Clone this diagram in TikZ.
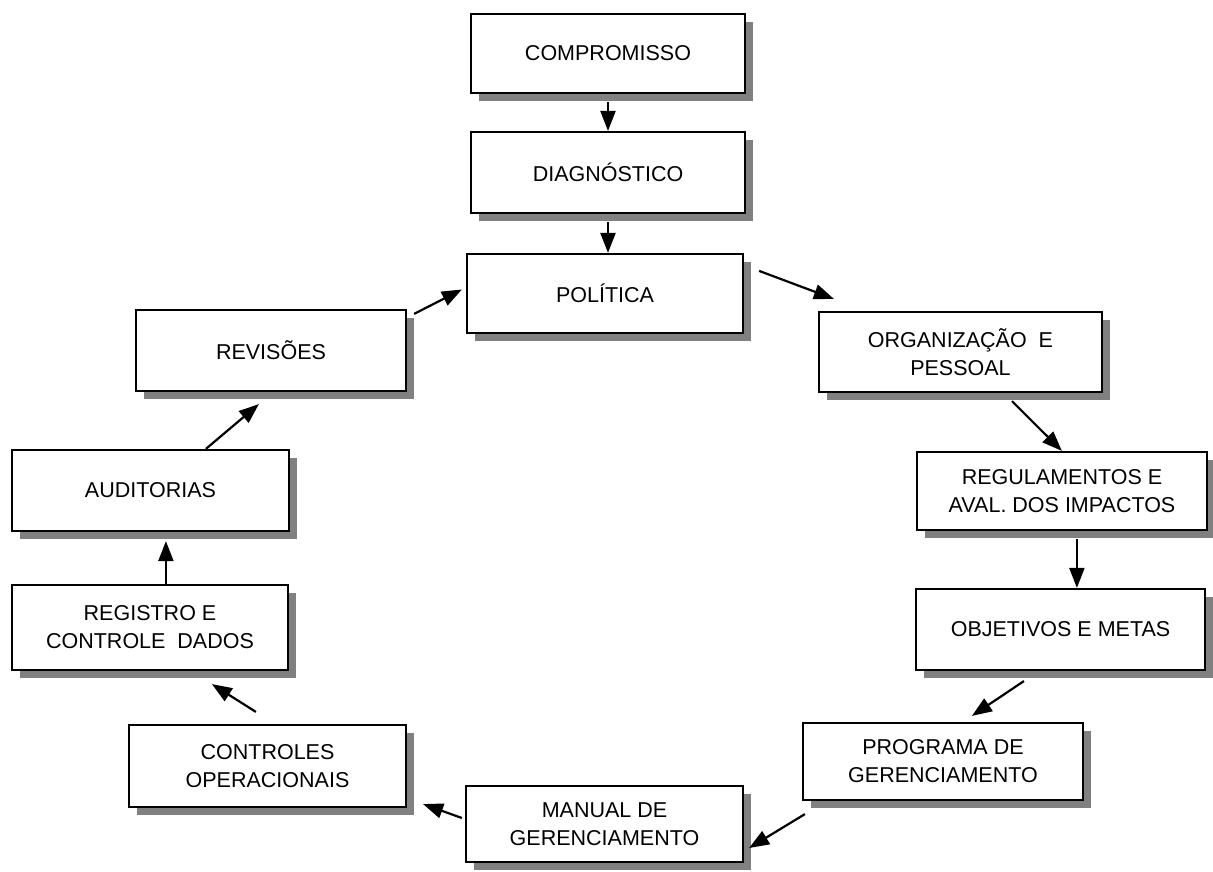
\documentclass[tikz,border=0pt]{standalone}
\usepackage{fontspec}
\setmainfont{Liberation Sans}
\usetikzlibrary{arrows.meta,shadows}

\begin{document}
\begin{tikzpicture}[x=1pt,y=-1pt,
  stepbox/.style={draw=black, line width=2.2pt, fill=white, inner sep=0pt,
    align=center, font=\fontsize{21.5}{28}\selectfont,
    drop shadow={shadow xshift=8pt, shadow yshift=-8pt, fill=black!50, opacity=1}},
  flow/.style={line width=2.2pt, -{Triangle[length=20pt,width=15pt]}}
]
\useasboundingbox (0,0) rectangle (1213,872);

% boxes: centre, width, height in pixels
\node[stepbox, minimum width=274pt, minimum height=79pt] (comp) at (608,53.5) {COMPROMISSO};
\node[stepbox, minimum width=274pt, minimum height=81pt] (diag) at (608,172.5) {DIAGN\'OSTICO};
\node[stepbox, minimum width=276pt, minimum height=79pt] (pol) at (605,293.5) {POL\'ITICA};
\node[stepbox, minimum width=283pt, minimum height=80pt] (org) at (960.5,352) {ORGANIZA\c{C}\~AO\ \ E\\PESSOAL};
\node[stepbox, minimum width=290pt, minimum height=78pt] (reg) at (1062,491) {REGULAMENTOS E\\AVAL. DOS IMPACTOS};
\node[stepbox, minimum width=289pt, minimum height=81pt] (obj) at (1060.5,629.5) {OBJETIVOS E METAS};
\node[stepbox, minimum width=280pt, minimum height=77pt] (prog) at (943,761.5) {PROGRAMA DE\\GERENCIAMENTO};
\node[stepbox, minimum width=277pt, minimum height=76pt] (man) at (604.5,824) {MANUAL DE\\GERENCIAMENTO};
\node[stepbox, minimum width=277pt, minimum height=82pt] (ctrl) at (267.5,766) {CONTROLES\\OPERACIONAIS};
\node[stepbox, minimum width=276pt, minimum height=85pt] (regi) at (150,627.5) {REGISTRO E\\CONTROLE\ \ DADOS};
\node[stepbox, minimum width=277pt, minimum height=81pt] (aud) at (150.5,490.5) {AUDITORIAS};
\node[stepbox, minimum width=270pt, minimum height=81pt] (rev) at (271,350.5) {REVIS\~OES};

% connectors
\draw[flow] ([shift={(0,8)}]comp.south) -- (diag.north);
\draw[flow] ([shift={(0,8)}]diag.south) -- ([shift={(3,0)}]pol.north);
\draw[flow] ([shift={(15,18)}]pol.north east) -- ([shift={(16,-12)}]org.north west);
\draw[flow] ([shift={(194,8)}]org.south west) -- ([shift={(146,0)}]reg.north west);
\draw[flow] ([shift={(161,8)}]reg.south west) -- ([shift={(162,0)}]obj.north west);
\draw[flow] ([shift={(109,10)}]obj.south west) -- ([shift={(170,-6)}]prog.north west);
\draw[flow] ([shift={(3,13)}]prog.south west) -- ([shift={(5,24)}]man.east);
\draw[flow] ([shift={(-3,-6)}]man.west) -- ([shift={(16,-4)}]ctrl.south east);
\draw[flow] ([shift={(128,-12)}]ctrl.north west) -- ([shift={(201,13)}]regi.south west);
\draw[flow] ([shift={(155,0)}]regi.north west) -- ([shift={(155,9)}]aud.south west);
\draw[flow] ([shift={(195,0)}]aud.north west) -- ([shift={(124,12)}]rev.south west);
\draw[flow] ([shift={(7,5)}]rev.north east) -- ([shift={(-4,-4)}]pol.west);
\end{tikzpicture}
\end{document}
